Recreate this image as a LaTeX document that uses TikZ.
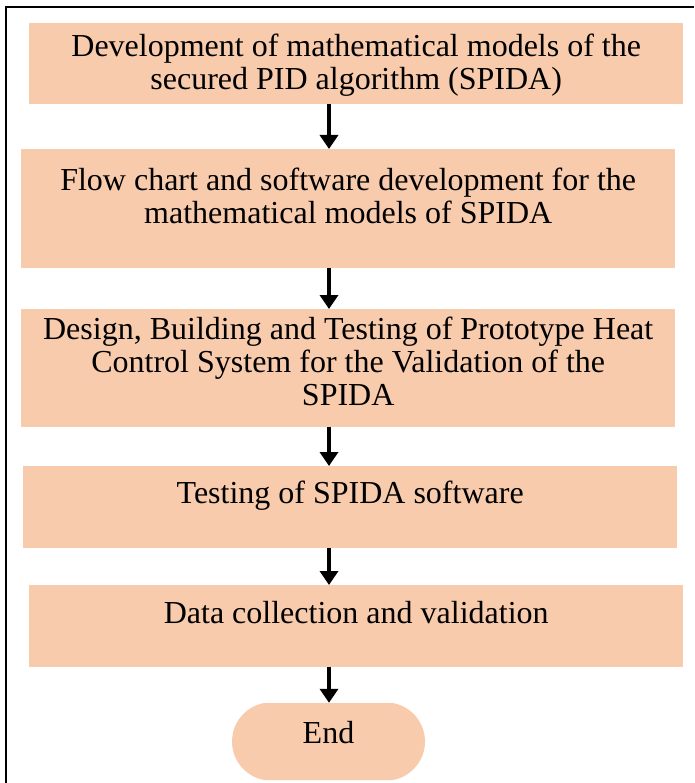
\documentclass[tikz,border=0pt]{standalone}
\usepackage{fontspec}
\setmainfont{Liberation Serif}
\usetikzlibrary{arrows.meta,shapes.misc}
\definecolor{peach}{HTML}{F8CBAD}

% text block of a stage: width, height, first-baseline offset, lines
\newcommand{\stagelines}[4]{%
  \parbox[c][#2][t]{#1}{\centering\fontsize{32pt}{33pt}\selectfont
    \rule{0pt}{#3}#4\par}}

\tikzset{
  stage/.style={fill=peach, inner sep=0pt, anchor=north west},
  terminal/.style={rounded rectangle, rounded rectangle arc length=160,
    fill=peach, minimum width=193pt, minimum height=77pt, inner sep=0pt,
    text height=20pt, text depth=17pt, font=\fontsize{32pt}{33pt}\selectfont},
  flow/.style={line width=4.5pt, -{Triangle[width=18pt,length=14pt]}},
  frame/.style={line width=2.5pt}
}

\begin{document}
\begin{tikzpicture}[x=1pt,y=-1pt]
  \useasboundingbox (0,0) rectangle (694,783);

  % page frame
  \draw[frame] (6,783) -- (6,7) -- (694,7);

  % stages
  \node[stage] (b1) at (29,23)
    {\stagelines{654pt}{81pt}{33pt}{Development of mathematical models of the\\secured PID algorithm (SPIDA)}};
  \node[stage] (b2) at (21,149)
    {\stagelines{654pt}{119pt}{41pt}{Flow chart and software development for the\\mathematical models of SPIDA}};
  \node[stage] (b3) at (21,309)
    {\stagelines{654pt}{118pt}{30pt}{Design, Building and Testing of Prototype Heat\\Control System for the Validation of the\\SPIDA}};
  \node[stage] (b4) at (23,466)
    {\stagelines{654pt}{82pt}{37pt}{Testing of SPIDA software}};
  \node[stage] (b5) at (29,585)
    {\stagelines{654pt}{82pt}{38pt}{Data collection and validation}};
  \node[terminal] (end) at (328.5,741.5) {End};

  % arrows run down a common vertical line
  \coordinate (spine) at (329,0);
  \draw[flow] (b1.south -| spine) -- (b2.north -| spine);
  \draw[flow] (b2.south -| spine) -- (b3.north -| spine);
  \draw[flow] (b3.south -| spine) -- (b4.north -| spine);
  \draw[flow] (b4.south -| spine) -- (b5.north -| spine);
  \draw[flow] (b5.south -| spine) -- (end.north -| spine);
\end{tikzpicture}
\end{document}
